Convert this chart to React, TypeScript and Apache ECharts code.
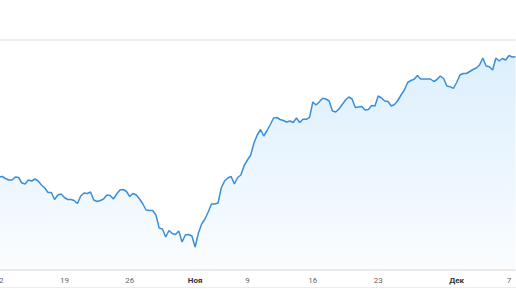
import React, { useEffect, useRef } from "react";
import * as echarts from "echarts";

// Trading days (weekends and the 4 Nov holiday are skipped)
const days: string[] = [
  "2020-10-12", "2020-10-13", "2020-10-14", "2020-10-15", "2020-10-16",
  "2020-10-19", "2020-10-20", "2020-10-21", "2020-10-22", "2020-10-23",
  "2020-10-26", "2020-10-27", "2020-10-28", "2020-10-29", "2020-10-30",
  "2020-11-02", "2020-11-03", "2020-11-05", "2020-11-06",
  "2020-11-09", "2020-11-10", "2020-11-11", "2020-11-12", "2020-11-13",
  "2020-11-16", "2020-11-17", "2020-11-18", "2020-11-19", "2020-11-20",
  "2020-11-23", "2020-11-24", "2020-11-25", "2020-11-26", "2020-11-27",
  "2020-11-30", "2020-12-01", "2020-12-02", "2020-12-03", "2020-12-04",
  "2020-12-07",
];
const slots: string[] = ["10:00", "12:30", "15:00", "17:30"];
const lastDaySlots = 3;

// Tick labels: day -> label text (months shown bold)
const tickDays: string[] = ["2020-10-12", "2020-10-19", "2020-10-26", "2020-11-02", "2020-11-09", "2020-11-16", "2020-11-23", "2020-12-01", "2020-12-07"];
const tickLabels: string[] = ["12", "19", "26", "Ноя", "9", "16", "23", "Дек", "7"];
const monthLabels: string[] = ["Ноя", "Дек"];

const values: number[] = [
  93, 93.5, 91.5, 90, 90, 93, 92.5, 87, 86, 90,
  89, 91, 89, 85, 82, 77.5, 77.5, 70.5, 75, 76,
  72.5, 70.5, 70.5, 69.5, 66.5, 74, 77, 76.5, 78, 70,
  68.5, 69.5, 71, 75, 74.5, 71, 76, 80, 80.5, 78.5,
  73.5, 76.5, 75, 71, 66, 60, 59.5, 59.5, 55, 42,
  41, 33, 39.5, 36.5, 35.5, 39, 28, 35, 35.5, 34,
  23, 37, 46, 51, 58, 66, 66, 67, 82, 89,
  92, 93.5, 86, 92.5, 95, 104.5, 110, 115, 127, 135,
  140.5, 134, 139.5, 145.5, 152, 152.5, 150.5, 149.5, 148, 149,
  147.5, 152, 147.5, 150.7, 150.7, 152.7, 168, 165, 168.3, 171.7,
  171, 169, 159, 158, 161, 165.5, 170, 173, 171, 162.5,
  163, 163.5, 160, 160.5, 164.5, 164, 174, 172, 169, 168.5,
  164, 165.5, 169.5, 175, 180, 187.5, 189.5, 190.7, 194.5, 191,
  191, 191, 191, 188.5, 190.5, 194, 191.5, 184, 183.3, 181.7,
  187.5, 195, 196.5, 196.5, 198.5, 200.5, 202, 205, 212, 204,
  203.3, 200, 212, 209, 211.5, 210, 214.5, 213, 213.3,
];

const categories: string[] = [];
days.forEach((d, i) => {
  const n = i === days.length - 1 ? lastDaySlots : slots.length;
  for (let k = 0; k < n; k++) categories.push(d + " " + slots[k]);
});

const tickMap: Record<string, string> = {};
tickDays.forEach((d, i) => {
  tickMap[d + " " + slots[0]] = tickLabels[i];
});

export default function App() {
  const ref = useRef<HTMLDivElement>(null);
  useEffect(() => {
    if (!ref.current) return;
    const chart = echarts.init(ref.current, undefined, { renderer: "svg" });
    chart.setOption({
      animation: false,
      backgroundColor: "#ffffff",
      grid: { left: -1, right: 0.5, top: 40, bottom: 19, containLabel: false, outerBoundsMode: "none" },
      xAxis: {
        type: "category",
        data: categories,
        boundaryGap: false,
        axisLine: { show: true, lineStyle: { color: "#e8e8e8", width: 1 } },
        axisTick: { show: false },
        splitLine: { show: false },
        axisLabel: {
          interval: (_i: number, v: string) => v in tickMap,
          margin: 6,
          fontSize: 8,
          fontFamily: "Roboto",
          color: "#666666",
          formatter: (v: string) => {
            const t = tickMap[v] || "";
            return monthLabels.includes(t) ? "{b|" + t + "}" : t;
          },
          rich: {
            b: { fontSize: 8, fontWeight: "bold", fontFamily: "Roboto", color: "#333333" },
          },
        },
      },
      yAxis: {
        type: "value",
        min: 0,
        max: 230,
        interval: 230,
        axisLine: { show: false },
        axisTick: { show: false },
        axisLabel: { show: false },
        splitLine: { show: true, lineStyle: { color: "#e2eaec", width: 1.5 } },
      },
      series: [
        {
          type: "line",
          data: values,
          symbol: "none",
          lineStyle: { color: "#3a8fd8", width: 1.5 },
          areaStyle: {
            color: new echarts.graphic.LinearGradient(0, 0, 0, 1, [
              { offset: 0, color: "rgba(33,150,243,0.22)" },
              { offset: 1, color: "rgba(33,150,243,0.03)" },
            ]),
          },
        },
      ],
      graphic: [
        {
          type: "line",
          shape: { x1: 0, y1: 287.5, x2: 516, y2: 287.5 },
          style: { stroke: "#ececec", lineWidth: 1 },
          silent: true,
        },
      ],
    });
    return () => chart.dispose();
  }, []);
  return (
    <div
      ref={ref}
      style={{ position: "absolute", left: 0, top: 0, width: 516, height: 289 }}
    />
  );
}
